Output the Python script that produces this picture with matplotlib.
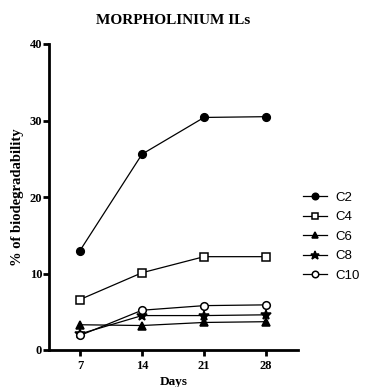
import matplotlib
matplotlib.use("Agg")
import matplotlib.pyplot as plt

days = [7, 14, 21, 28]
series_names = ["C2", "C4", "C6", "C8", "C10"]
c2 = [13.0, 25.6, 30.4, 30.5]
c4 = [6.6, 10.1, 12.2, 12.2]
c6 = [3.3, 3.2, 3.6, 3.7]
c8 = [2.1, 4.5, 4.5, 4.6]
c10 = [1.9, 5.2, 5.8, 5.9]
values = [c2, c4, c6, c8, c10]
y_ticks = [0, 10, 20, 30, 40]

markers = ["o", "s", "^", "*", "o"]
fills = ["black", "white", "black", "black", "white"]
msizes = [5.5, 5.2, 5.5, 7.5, 5.5]

fig = plt.figure(figsize=(3.68, 3.87), dpi=100)
ax = fig.add_axes([49/368, 1-350/387, 249/368, 306/387])

for name, vals, m, fc, ms in zip(series_names, values, markers, fills, msizes):
    ax.plot(days, vals, color="black", lw=0.9, marker=m, markersize=ms,
            markerfacecolor=fc, markeredgecolor="black", markeredgewidth=1.1,
            label=name, clip_on=False)

ax.set_xlim(3.5, 31.6)
ax.set_ylim(0, 40)
ax.set_xticks(days)
ax.set_yticks(y_ticks)
for s in ["top", "right"]:
    ax.spines[s].set_visible(False)
for s in ["left", "bottom"]:
    ax.spines[s].set_linewidth(2)
ax.tick_params(width=2, length=4, direction="out")
serif = "Liberation Serif"
for lab in ax.get_xticklabels() + ax.get_yticklabels():
    lab.set_fontfamily(serif)
    lab.set_fontweight("bold")
    lab.set_fontsize(9)
ax.tick_params(axis="x", pad=3)
ax.tick_params(axis="y", pad=1)

ax.set_xlabel("Days", family=serif, weight="bold", fontsize=9.5, labelpad=3)
ax.set_ylabel("% of biodegradability", family=serif, weight="bold", fontsize=10.5, labelpad=4)
fig.text(173/368, 1-20/387, "MORPHOLINIUM ILs", family=serif, weight="bold",
         fontsize=11, ha="center", va="center")

leg = ax.legend(loc="upper left", bbox_to_anchor=(1.0, 0.535), frameon=False,
                prop={"family": "Liberation Sans", "size": 9.5},
                handlelength=1.8, handletextpad=0.6, labelspacing=0.55,
                borderaxespad=0, markerscale=0.85)

fig.savefig("out.png", dpi=100)
